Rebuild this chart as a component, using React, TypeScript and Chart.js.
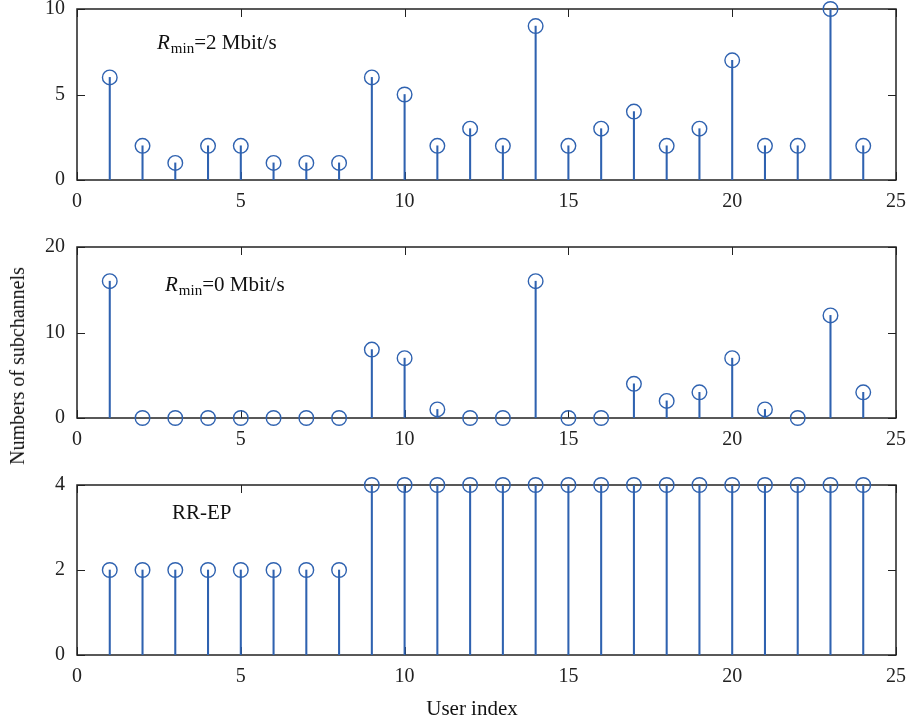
import React, { useEffect, useRef } from "react";
import { Chart, registerables } from "chart.js";

Chart.register(...registerables);

const users = [1, 2, 3, 4, 5, 6, 7, 8, 9, 10, 11, 12, 13, 14, 15, 16, 17, 18, 19, 20, 21, 22, 23, 24];
const rmin2 = [6, 2, 1, 2, 2, 1, 1, 1, 6, 5, 2, 3, 2, 9, 2, 3, 4, 2, 3, 7, 2, 2, 10, 2];
const rmin0 = [16, 0, 0, 0, 0, 0, 0, 0, 8, 7, 1, 0, 0, 16, 0, 0, 4, 2, 3, 7, 1, 0, 12, 3];
const rrep = [2, 2, 2, 2, 2, 2, 2, 2, 4, 4, 4, 4, 4, 4, 4, 4, 4, 4, 4, 4, 4, 4, 4, 4];

const xTicks = [0, 5, 10, 15, 20, 25];
const panels = [
  { values: rmin2, yMax: 10, yStep: 5, label: { italic: "R", sub: "min", rest: "=2 Mbit/s" }, lx: 80, ly: 34 },
  { values: rmin0, yMax: 20, yStep: 10, label: { italic: "R", sub: "min", rest: "=0 Mbit/s" }, lx: 88, ly: 38 },
  { values: rrep, yMax: 4, yStep: 2, label: { italic: "", sub: "", rest: "RR-EP" }, lx: 95, ly: 28 },
];

const BLUE = "#2f62b0";
const AXIS = "#222222";
const FONT = "'Liberation Serif', 'Times New Roman', serif";

const boxPlugin = {
  id: "boxTicks",
  beforeDatasetsDraw(chart: any) {
    const { ctx, chartArea } = chart;
    const { left, right, top, bottom } = chartArea;
    const xs = chart.scales.x;
    const ys = chart.scales.y;
    ctx.save();
    ctx.strokeStyle = AXIS;
    ctx.lineWidth = 1.5;
    ctx.strokeRect(left, top, right - left, bottom - top);
    ctx.lineWidth = 1;
    const L = 8;
    ctx.beginPath();
    xs.ticks.forEach((t: any) => {
      const px = Math.round(xs.getPixelForValue(t.value)) + 0.5;
      ctx.moveTo(px, bottom);
      ctx.lineTo(px, bottom - L);
      ctx.moveTo(px, top);
      ctx.lineTo(px, top + L);
    });
    ys.ticks.forEach((t: any) => {
      const py = Math.round(ys.getPixelForValue(t.value)) + 0.5;
      ctx.moveTo(left, py);
      ctx.lineTo(left + L, py);
      ctx.moveTo(right, py);
      ctx.lineTo(right - L, py);
    });
    ctx.stroke();
    ctx.restore();
  },
};

const annotPlugin = {
  id: "annot",
  afterDraw(chart: any, _args: any, opts: any) {
    const { ctx, chartArea } = chart;
    let x = chartArea.left + opts.lx;
    const y = chartArea.top + opts.ly;
    ctx.save();
    ctx.fillStyle = "#111";
    ctx.textBaseline = "middle";
    ctx.textAlign = "left";
    if (opts.italic) {
      ctx.font = `italic 21px ${FONT}`;
      ctx.fillText(opts.italic, x, y);
      x += ctx.measureText(opts.italic).width + 1;
    }
    if (opts.sub) {
      ctx.font = `15px ${FONT}`;
      ctx.fillText(opts.sub, x, y + 6);
      x += ctx.measureText(opts.sub).width;
    }
    ctx.font = `21px ${FONT}`;
    ctx.fillText(opts.rest, x, y);
    ctx.restore();
  },
};

function Panel({ idx, top, height, xAxisH }: { idx: number; top: number; height: number; xAxisH: number }) {
  const ref = useRef<HTMLCanvasElement | null>(null);
  useEffect(() => {
    const p = panels[idx];
    const canvas = ref.current!;
    const chart = new Chart(canvas, {
      type: "bar",
      data: {
        datasets: [
          {
            type: "bar",
            data: users.map((u, i) => ({ x: u, y: p.values[i] })),
            backgroundColor: BLUE,
            borderWidth: 0,
            barThickness: 1.4,
            order: 2,
          } as any,
          {
            type: "scatter",
            data: users.map((u, i) => ({ x: u, y: p.values[i] })),
            pointRadius: 7.3,
            pointHoverRadius: 7.3,
            pointBorderWidth: 1.4,
            pointBorderColor: BLUE,
            pointBackgroundColor: "rgba(0,0,0,0)",
            showLine: false,
            clip: false,
            order: 1,
          } as any,
        ],
      },
      options: {
        responsive: false,
        animation: false,
        events: [],
        layout: { padding: { left: 0, right: 10, top: 9, bottom: 0 } },
        plugins: {
          legend: { display: false },
          tooltip: { enabled: false },
          annot: { italic: p.label.italic, sub: p.label.sub, rest: p.label.rest, lx: p.lx, ly: p.ly },
        } as any,
        scales: {
          x: {
            type: "linear",
            min: 0,
            max: 25,
            offset: false,
            afterBuildTicks: (s: any) => {
              s.ticks = xTicks.map((v) => ({ value: v }));
            },
            afterFit: (s: any) => {
              s.height = xAxisH;
              s.paddingLeft = 0;
              s.paddingRight = 0;
              s.paddingTop = 0;
              s.paddingBottom = 0;
            },
            grid: { display: false, drawTicks: false, offset: false },
            border: { display: false },
            ticks: { font: { family: FONT, size: 20 }, color: AXIS, padding: 10, maxRotation: 0 },
          },
          y: {
            type: "linear",
            min: 0,
            max: p.yMax,
            afterFit: (s: any) => {
              s.width = 77;
              s.paddingLeft = 0;
              s.paddingRight = 0;
              s.paddingTop = 0;
              s.paddingBottom = 0;
            },
            grid: { display: false, drawTicks: false },
            border: { display: false },
            ticks: { stepSize: p.yStep, font: { family: FONT, size: 20 }, color: AXIS, padding: 12 },
          },
        },
      } as any,
      plugins: [boxPlugin, annotPlugin],
    });
    return () => chart.destroy();
  }, [idx, xAxisH]);
  return (
    <canvas
      ref={ref}
      width={906}
      height={height}
      style={{ position: "absolute", left: 0, top, width: 906, height }}
    />
  );
}

export default function App() {
  return (
    <div style={{ position: "absolute", left: 0, top: 0, width: 906, height: 725, background: "#fff", overflow: "hidden" }}>
      <Panel idx={0} top={0} height={238} xAxisH={58} />
      <Panel idx={1} top={238} height={238} xAxisH={58} />
      <Panel idx={2} top={476} height={249} xAxisH={70} />
      <div
        style={{
          position: "absolute",
          left: 17,
          top: 366,
          transform: "translate(-50%, -50%) rotate(-90deg)",
          whiteSpace: "nowrap",
          fontFamily: FONT,
          fontSize: 20,
          color: "#111",
          lineHeight: 1,
        }}
      >
        Numbers of subchannels
      </div>
      <div
        style={{
          position: "absolute",
          left: 472,
          top: 708,
          transform: "translate(-50%, -50%)",
          whiteSpace: "nowrap",
          fontFamily: FONT,
          fontSize: 21,
          color: "#111",
          lineHeight: 1,
        }}
      >
        User index
      </div>
    </div>
  );
}
